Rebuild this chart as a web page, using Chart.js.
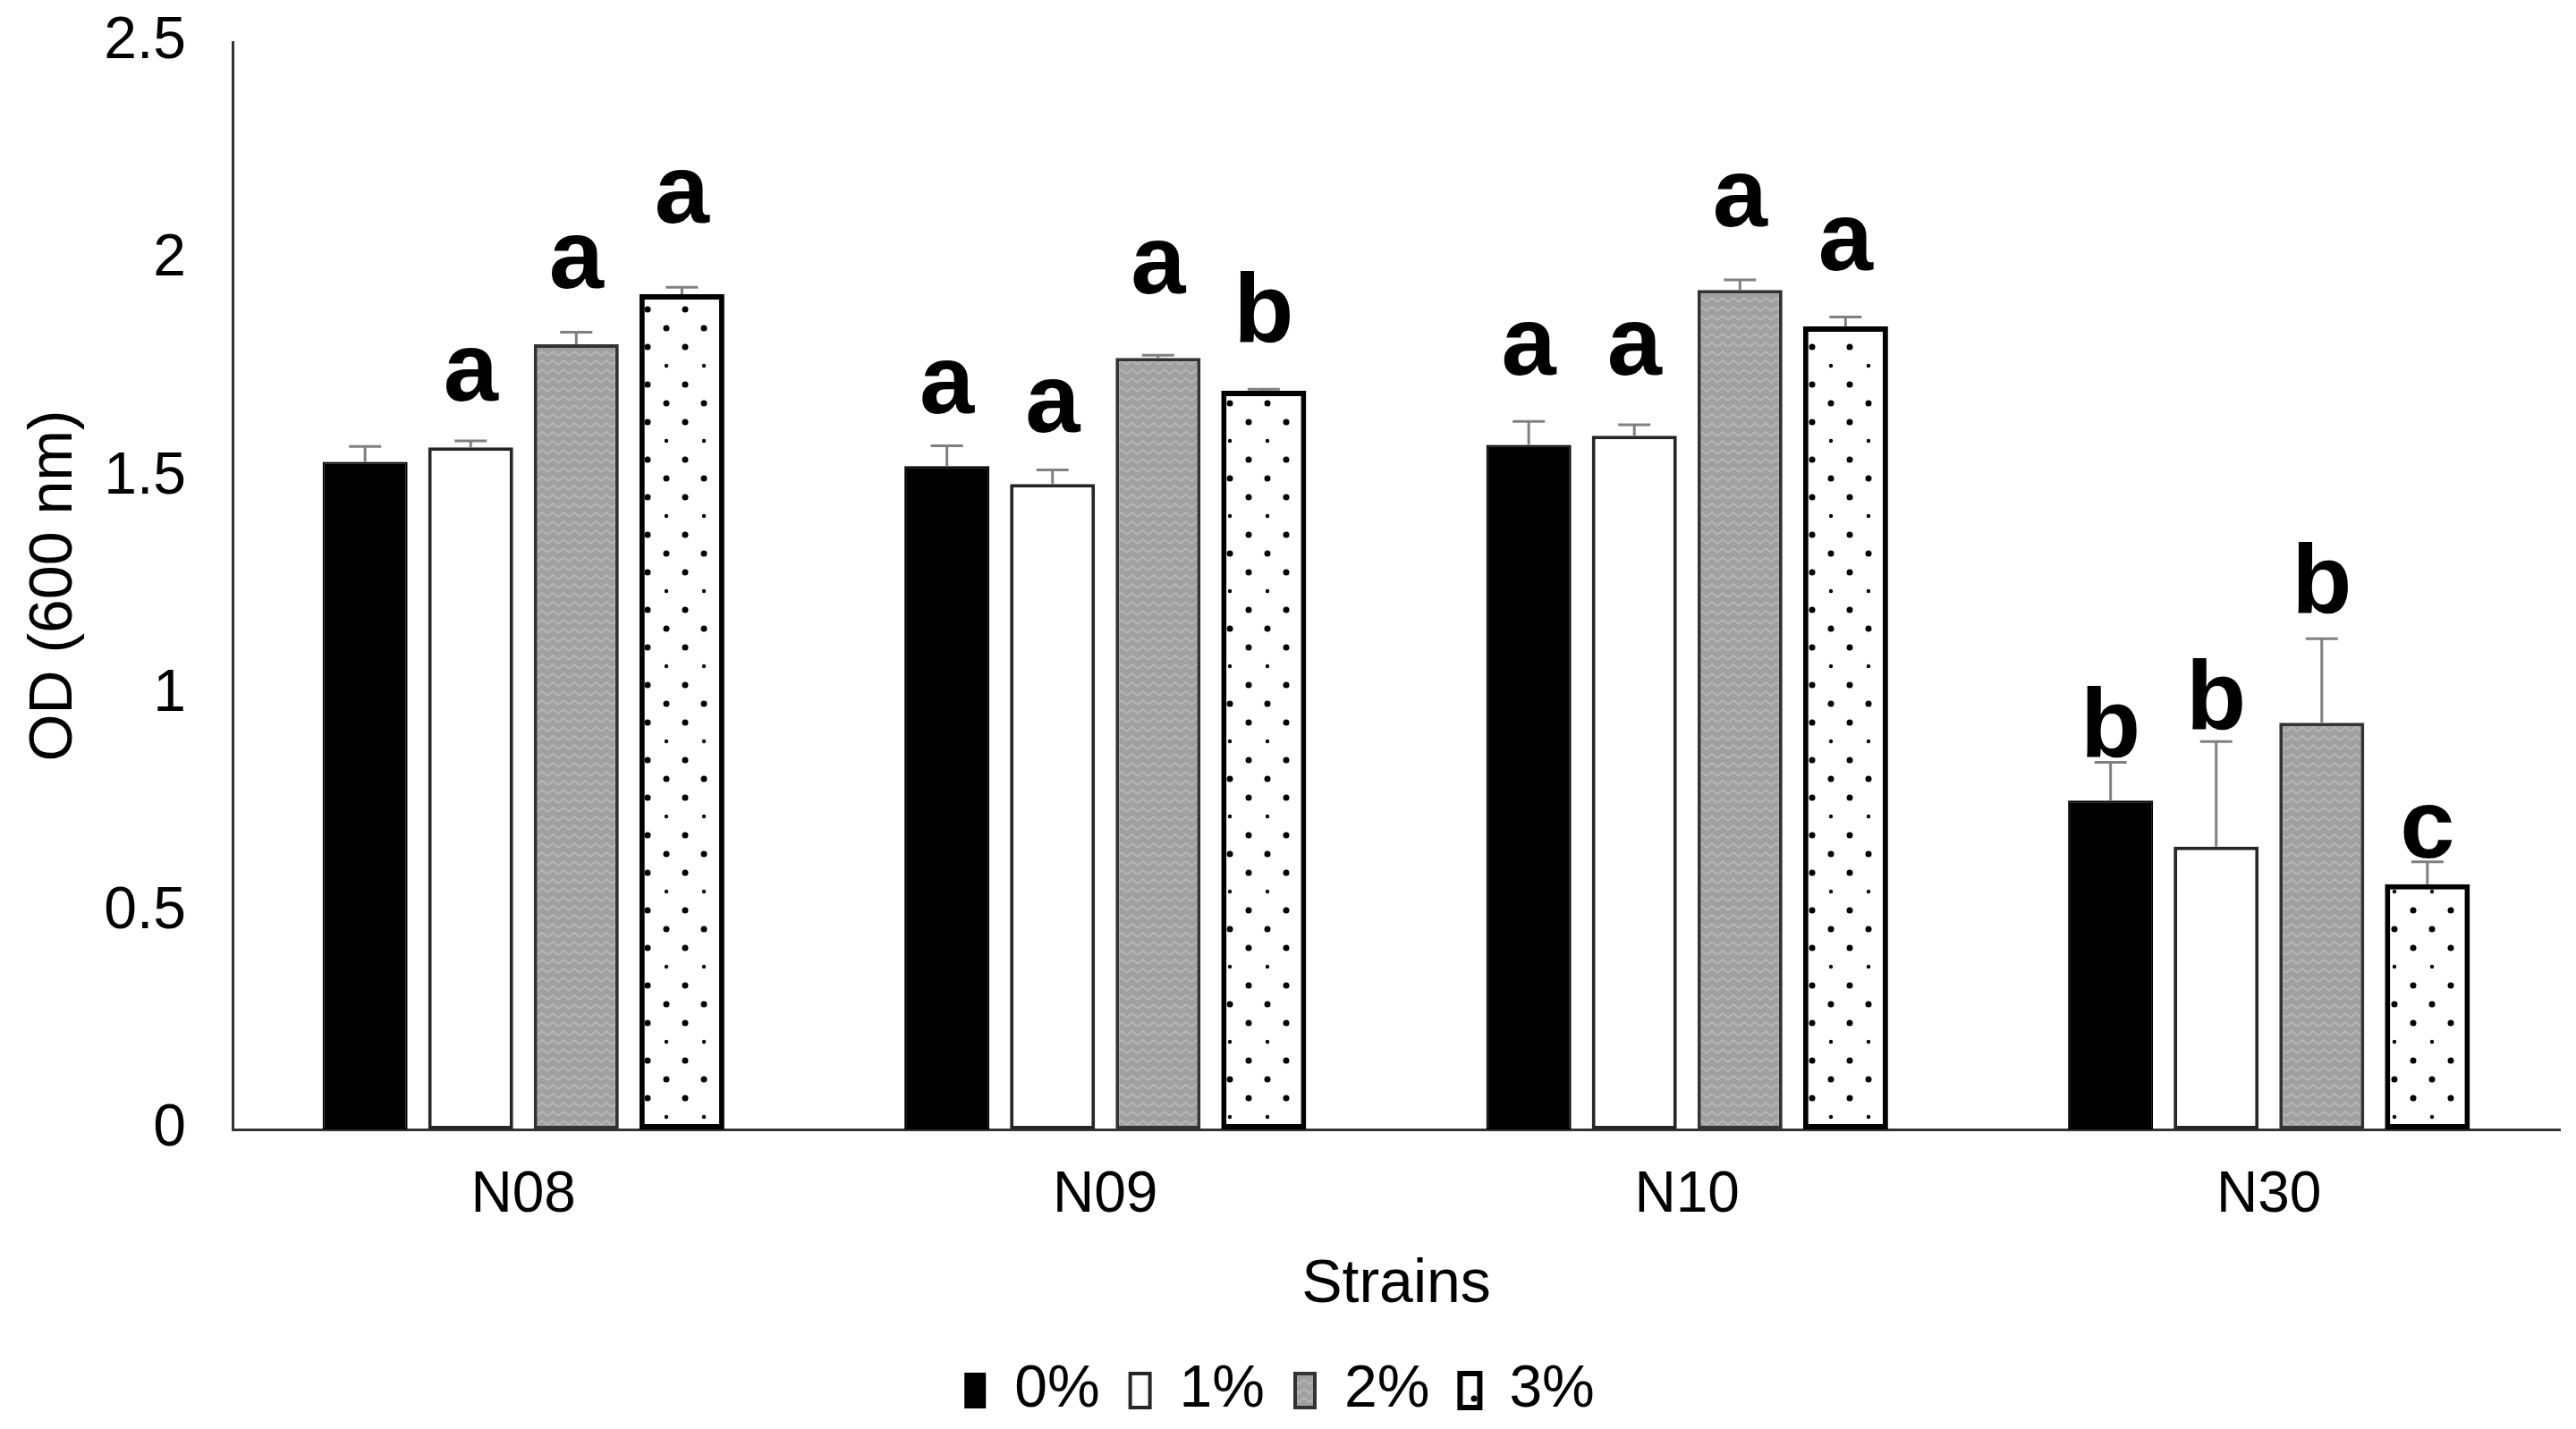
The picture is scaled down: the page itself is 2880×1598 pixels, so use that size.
<!DOCTYPE html>
<html>
<head>
<meta charset="utf-8">
<title>OD by strain</title>
<script src="https://cdn.jsdelivr.net/npm/chart.js@4.4.1/dist/chart.umd.min.js"></script>
<style>
  html, body { margin: 0; padding: 0; background: #fff; }
  #wrap { width: 2880px; height: 1598px; position: relative; }
</style>
</head>
<body>
<div id="wrap"><canvas id="odChart"></canvas></div>
<script>
// Data
const strains = ['N08', 'N09', 'N10', 'N30'];
const concentrations = ['0%', '1%', '2%', '3%'];

const od0 = [1.535, 1.525, 1.574, 0.756];
const od1 = [1.568, 1.484, 1.595, 0.650];
const od2 = [1.805, 1.774, 1.930, 0.935];
const od3 = [1.920, 1.698, 1.846, 0.564];

// upper error bars
const err0 = [0.035, 0.047, 0.054, 0.088];
const err1 = [0.015, 0.032, 0.025, 0.242];
const err2 = [0.028, 0.006, 0.023, 0.193];
const err3 = [0.016, 0.004, 0.022, 0.051];

// significance letters, and the OD level each one sits on
const letters0 = ['', 'a', 'a', 'b'];
const letters1 = ['a', 'a', 'a', 'b'];
const letters2 = ['a', 'a', 'a', 'b'];
const letters3 = ['a', 'b', 'a', 'c'];

const letterAt0 = [null, 1.647, 1.735, 0.857];
const letterAt1 = [1.676, 1.604, 1.735, 0.922];
const letterAt2 = [1.935, 1.922, 2.076, 1.189];
const letterAt3 = [2.085, 1.811, 1.976, 0.625];

const FONT = "'Liberation Sans', Arial, sans-serif";
Chart.defaults.font.family = FONT;
Chart.defaults.color = '#000';

// Fill patterns
function zigzagPattern() {
    const c = document.createElement('canvas');
    c.width = 12; c.height = 10;
    const g = c.getContext('2d');
    g.fillStyle = '#a0a0a0';
    g.fillRect(0, 0, 12, 10);
    g.strokeStyle = '#b6b6b6';
    g.lineWidth = 2;
    g.beginPath();
    g.moveTo(0, 8); g.lineTo(6, 3); g.lineTo(12, 8);
    g.stroke();
    return g.createPattern(c, 'repeat');
}

function dotPattern() {
    const c = document.createElement('canvas');
    c.width = 42; c.height = 84;
    const g = c.getContext('2d');
    g.fillStyle = '#fff';
    g.fillRect(0, 0, 42, 84);
    g.fillStyle = '#000';
    [[10, 10, 3.5], [31, 31, 3.5], [10, 52, 3.5], [31, 73, 2.2]].forEach(([x, y, r]) => {
        g.beginPath();
        g.arc(x, y, r, 0, Math.PI * 2);
        g.fill();
    });
    return g.createPattern(c, 'repeat');
}

// Error bars + letters drawn on top of the bars
const annotateBars = {
    id: 'annotateBars',
    afterDatasetsDraw(chart) {
        const { ctx } = chart;
        const y = chart.scales.y;
        ctx.save();
        chart.data.datasets.forEach((ds, i) => {
            const meta = chart.getDatasetMeta(i);
            meta.data.forEach((bar, j) => {
                const top = y.getPixelForValue(ds.data[j] + ds.errorUp[j]);
                ctx.strokeStyle = '#808080';
                ctx.lineWidth = 3;
                ctx.beginPath();
                ctx.moveTo(bar.x, bar.y);
                ctx.lineTo(bar.x, top);
                ctx.moveTo(bar.x - 18, top);
                ctx.lineTo(bar.x + 18, top);
                ctx.stroke();

                if (ds.letters[j]) {
                    ctx.fillStyle = '#000';
                    ctx.font = 'bold 110px ' + FONT;
                    ctx.textAlign = 'center';
                    ctx.textBaseline = 'alphabetic';
                    ctx.fillText(ds.letters[j], bar.x, y.getPixelForValue(ds.letterAt[j]));
                }
            });
        });
        ctx.restore();
    }
};

const ctx = document.getElementById('odChart').getContext('2d');

const chart = new Chart(ctx, {
    type: 'bar',
    data: {
        labels: strains,
        datasets: [
            {
                label: concentrations[0], data: od0, errorUp: err0, letters: letters0, letterAt: letterAt0,
                backgroundColor: '#000', borderColor: '#000', borderWidth: 2
            },
            {
                label: concentrations[1], data: od1, errorUp: err1, letters: letters1, letterAt: letterAt1,
                backgroundColor: '#fff', borderColor: '#262626', borderWidth: 4
            },
            {
                label: concentrations[2], data: od2, errorUp: err2, letters: letters2, letterAt: letterAt2,
                backgroundColor: zigzagPattern(), borderColor: '#333', borderWidth: 4
            },
            {
                label: concentrations[3], data: od3, errorUp: err3, letters: letters3, letterAt: letterAt3,
                backgroundColor: dotPattern(), borderColor: '#000', borderWidth: 6
            }
        ]
    },
    options: {
        responsive: true,
        maintainAspectRatio: false,
        animation: false,
        layout: { padding: { top: 47, right: 18, left: 0, bottom: 0 } },
        datasets: {
            bar: { barPercentage: 0.805, categoryPercentage: 0.726, borderSkipped: false }
        },
        plugins: {
            legend: {
                position: 'bottom',
                labels: {
                    font: { size: 66 },
                    color: '#000',
                    boxWidth: 22,
                    boxHeight: 38,
                    padding: 34
                }
            },
            tooltip: { enabled: false }
        },
        scales: {
            x: {
                grid: { display: false, drawTicks: false },
                border: { color: '#333', width: 3 },
                ticks: { font: { size: 64 }, color: '#000', padding: 36 },
                title: {
                    display: true,
                    text: 'Strains',
                    font: { size: 68 },
                    color: '#000',
                    padding: { top: 0, bottom: 10 }
                },
                afterFit: (s) => { s.height = 225; }
            },
            y: {
                min: 0,
                max: 2.5,
                ticks: {
                    stepSize: 0.5,
                    font: { size: 66 },
                    color: '#000',
                    padding: 52,
                    callback: (v) => String(v)
                },
                grid: { display: false, drawTicks: false },
                border: { color: '#333', width: 3 },
                title: {
                    display: true,
                    text: 'OD (600 nm)',
                    font: { size: 68 },
                    color: '#000',
                    padding: { top: 20, bottom: 0 }
                },
                afterFit: (s) => {
                    s.width = 260;
                    // the tick padding is horizontal only here
                    s.paddingTop = 0;
                    s.paddingBottom = 0;
                }
            }
        }
    },
    plugins: [annotateBars]
});
</script>
</body>
</html>
